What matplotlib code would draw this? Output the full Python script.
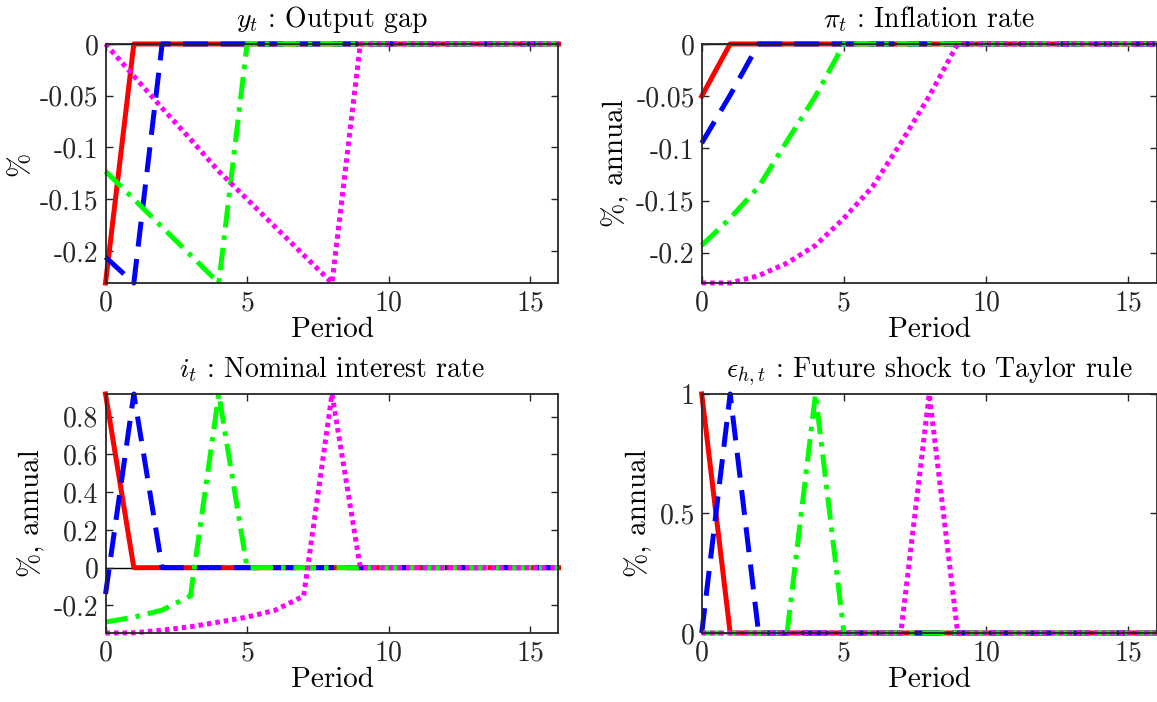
import numpy as np
import matplotlib
matplotlib.use("Agg")
import matplotlib.pyplot as plt

plt.rcParams['font.family'] = ['cmr10']
plt.rcParams['mathtext.fontset'] = 'cm'
plt.rcParams['axes.unicode_minus'] = False

# periods 0..16
period = np.arange(17)

# forward-guidance horizons: h = 0, 1, 4, 8
colors = ['#ff0000', '#0000ff', '#00ff00', '#ff00ff']
styles = ['-', (0, (5, 2.5)), (0, (4.5, 1.6, 0.9, 1.6)), (0, (0.9, 0.8))]

# output gap
y_h0 = [-0.231] + [0] * 16
y_h1 = [-0.206, -0.231] + [0] * 15
y_h4 = [-0.123, -0.150, -0.177, -0.204, -0.231] + [0] * 12
y_h8 = [0, -0.031, -0.062, -0.092, -0.123, -0.150, -0.177, -0.204, -0.231] + [0] * 8

# inflation rate
pi_h0 = [-0.050] + [0] * 16
pi_h1 = [-0.095, -0.049] + [0] * 15
pi_h4 = [-0.193, -0.167, -0.137, -0.093, -0.050] + [0] * 12
pi_h8 = [-0.229, -0.229, -0.222, -0.210, -0.193, -0.167, -0.137, -0.095, -0.050] + [0] * 8

# nominal interest rate
i_h0 = [0.92] + [0] * 16
i_h1 = [-0.14, 0.92] + [0] * 15
i_h4 = [-0.288, -0.262, -0.225, -0.150, 0.92] + [0] * 12
i_h8 = [-0.346, -0.345, -0.331, -0.313, -0.288, -0.262, -0.225, -0.150, 0.92] + [0] * 8

# future shock to the Taylor rule
e_h0 = [1] + [0] * 16
e_h1 = [0, 1] + [0] * 15
e_h4 = [0, 0, 0, 0, 1] + [0] * 12
e_h8 = [0] * 8 + [1] + [0] * 8

titles = [r'$y_t$ : Output gap', r'$\pi_t$ : Inflation rate',
          r'$i_t$ : Nominal interest rate', r'$\epsilon_{h,t}$ : Future shock to Taylor rule']
ylabels = ['%', '%, annual', '%, annual', '%, annual']
series = [[y_h0, y_h1, y_h4, y_h8], [pi_h0, pi_h1, pi_h4, pi_h8],
          [i_h0, i_h1, i_h4, i_h8], [e_h0, e_h1, e_h4, e_h8]]
ylims = [(-0.231, 0), (-0.229, 0), (-0.346, 0.92), (0, 1)]
yticks = [[-0.2, -0.15, -0.1, -0.05, 0], [-0.2, -0.15, -0.1, -0.05, 0],
          [-0.2, 0, 0.2, 0.4, 0.6, 0.8], [0, 0.5, 1]]
ytick_labels = [['-0.2', '-0.15', '-0.1', '-0.05', '0'], ['-0.2', '-0.15', '-0.1', '-0.05', '0'],
                ['-0.2', '0', '0.2', '0.4', '0.6', '0.8'], ['0', '0.5', '1']]
xticks = [0, 5, 10, 15]

fig = plt.figure(figsize=(11.57, 7.02), dpi=100)
positions = [[0.0912, 0.5969, 0.3915, 0.3405], [0.6065, 0.5969, 0.3933, 0.3405],
             [0.0912, 0.0983, 0.3915, 0.3405], [0.6065, 0.0983, 0.3933, 0.3405]]
# right edge of each rotated y label, in axes fraction
ylabel_x = [-0.160, -0.158, -0.133, -0.109]

for k in range(4):
    ax = fig.add_axes(positions[k])
    ax.plot(period, np.zeros(len(period)), color='k', lw=1.0, zorder=1, clip_on=False)
    for vals, c, ls in zip(series[k], colors, styles):
        ax.plot(period, vals, color=c, linestyle=ls, lw=3.6, zorder=2, clip_on=False)
    ax.set_xlim(0, 16)
    ax.set_ylim(*ylims[k])
    ax.set_xticks(xticks)
    ax.set_xticklabels([str(t) for t in xticks])
    ax.set_yticks(yticks[k])
    ax.set_yticklabels(ytick_labels[k])
    ax.tick_params(direction='in', top=True, right=True, length=5, width=1.0,
                   labelsize=20, pad=5, colors='#262626', labelcolor='#262626')
    for s in ax.spines.values():
        s.set_linewidth(1.3)
        s.set_color('#262626')
        s.set_zorder(3)
    ax.set_title(titles[k], fontsize=20, pad=12)
    ax.set_xlabel('Period', fontsize=21, labelpad=0)
    ax.set_ylabel(ylabels[k], fontsize=21)
    ax.yaxis.set_label_coords(ylabel_x[k], 0.5)

fig.savefig('out.png', dpi=100)
